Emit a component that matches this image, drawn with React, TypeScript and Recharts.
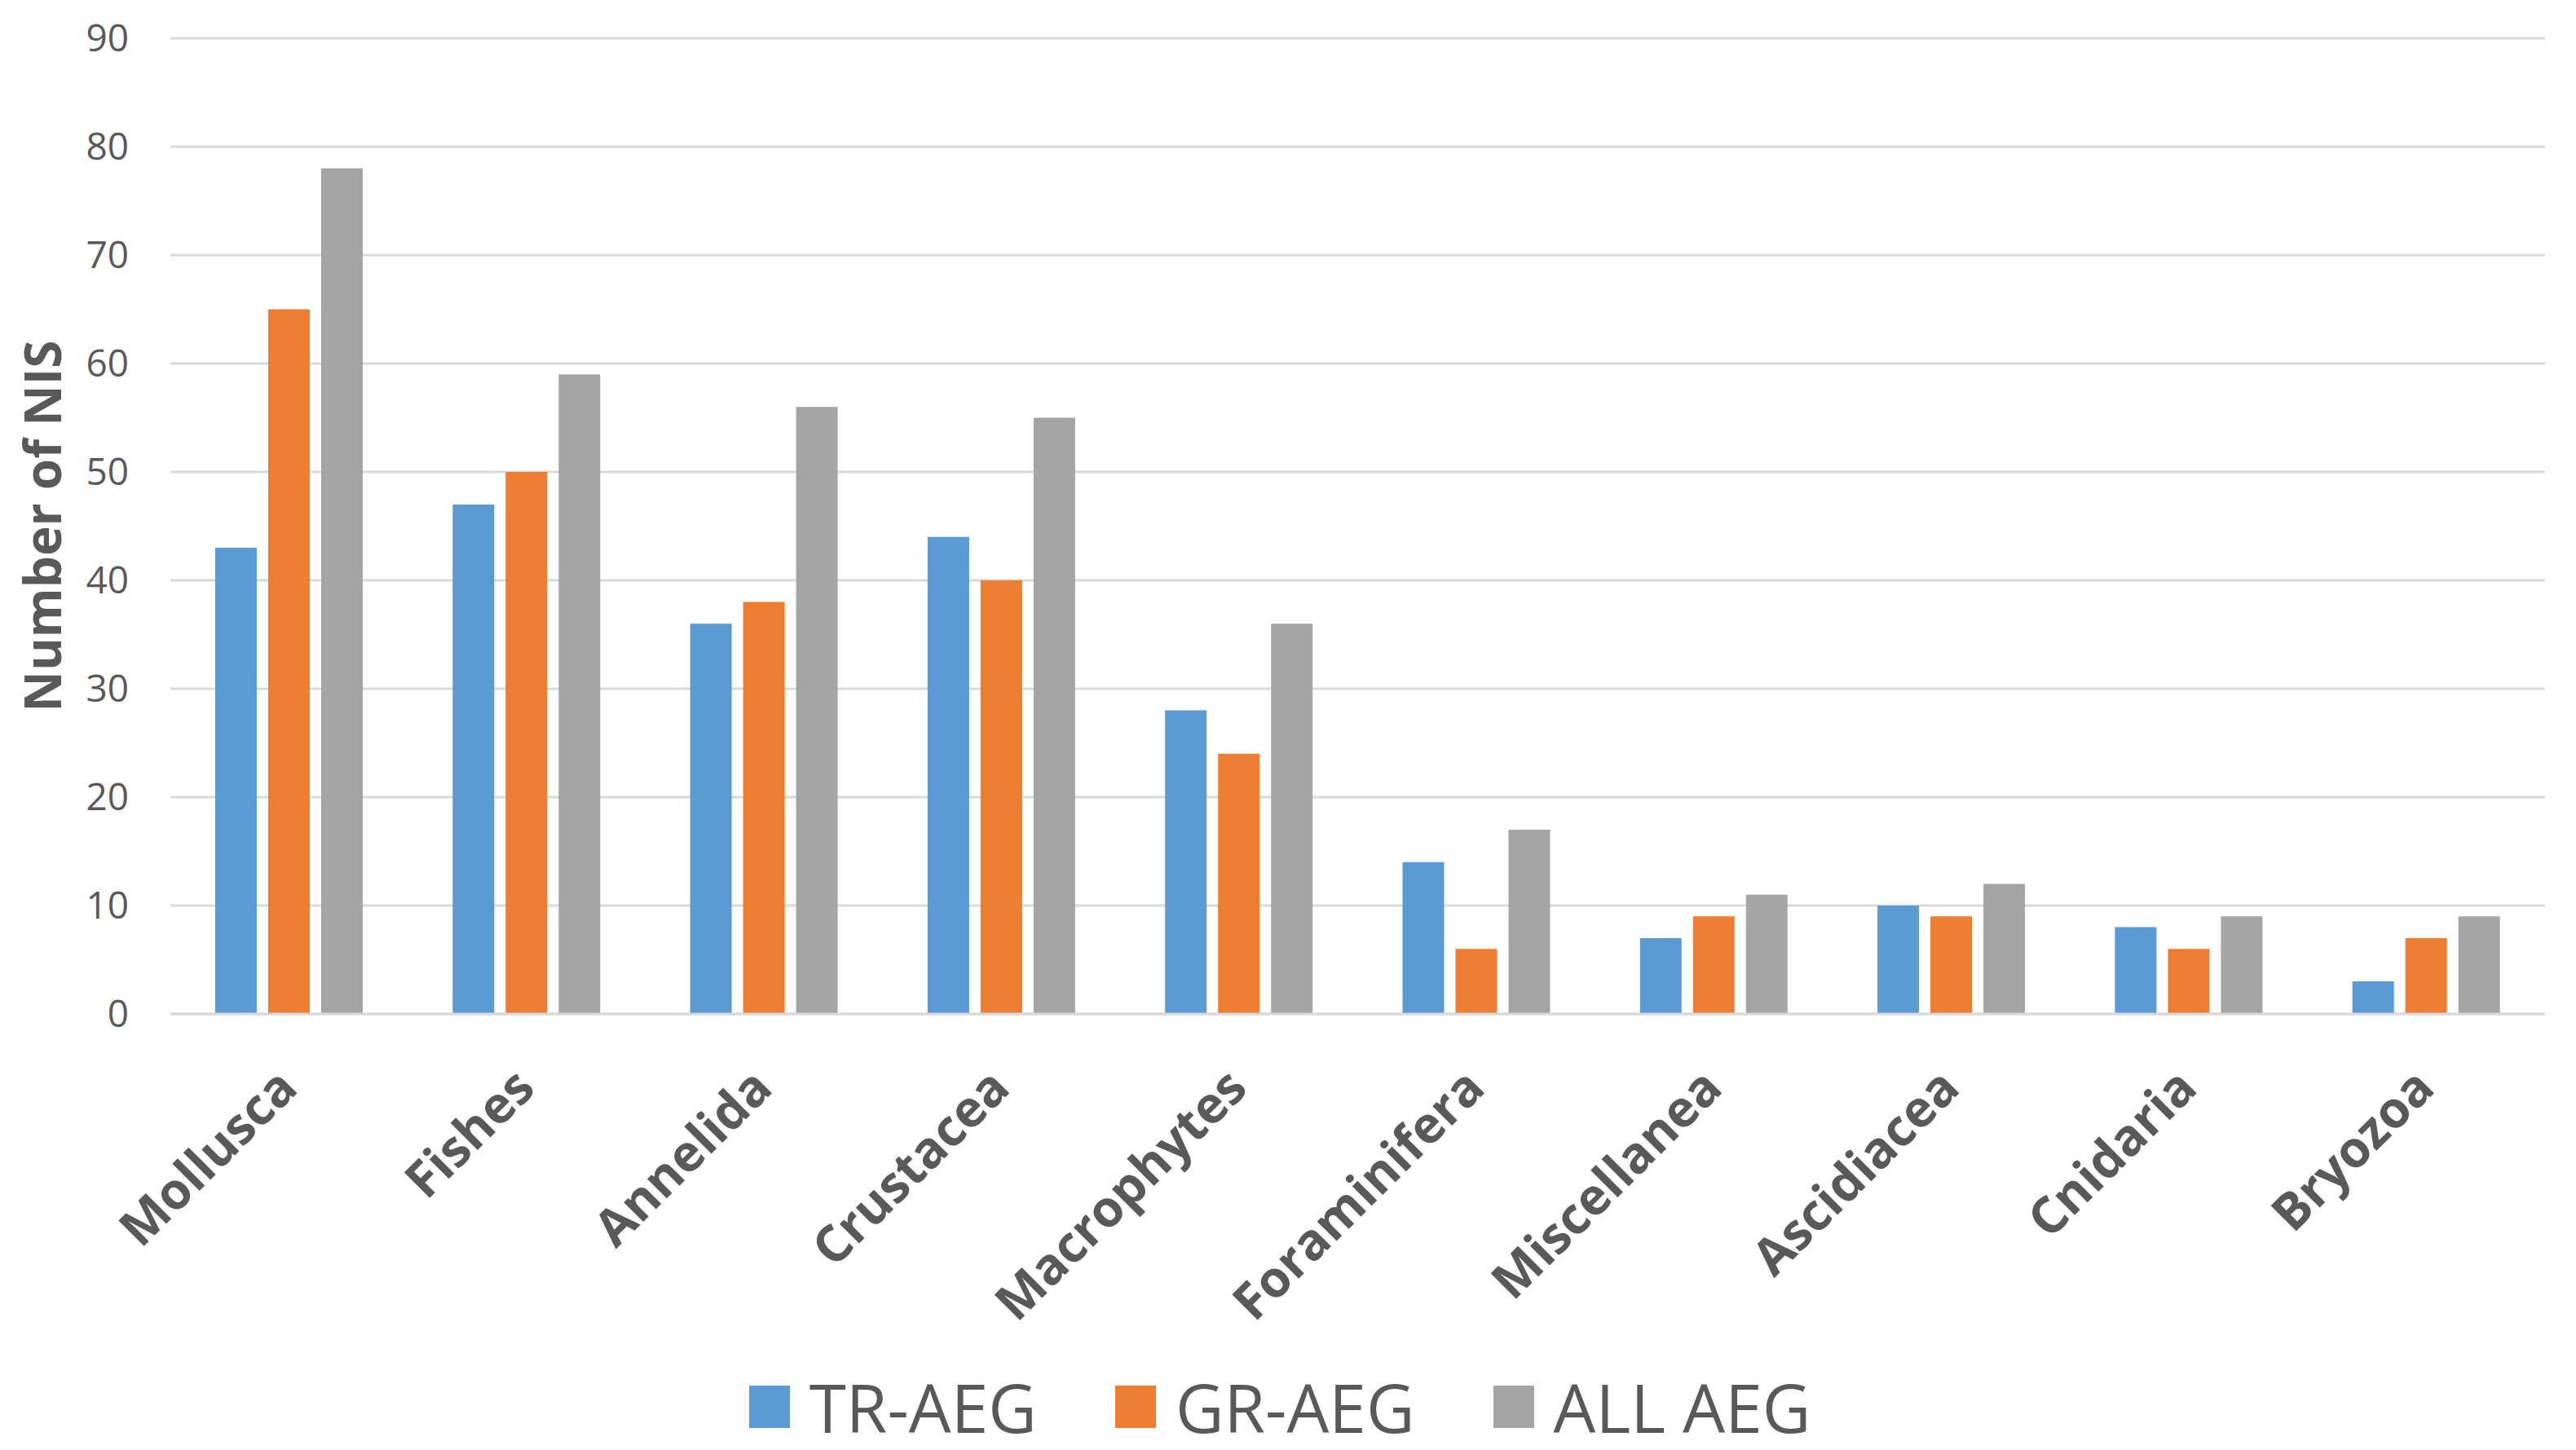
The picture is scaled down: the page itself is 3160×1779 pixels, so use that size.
import { BarChart, Bar, XAxis, YAxis, CartesianGrid, Legend } from 'recharts';

const categories = ['Mollusca', 'Fishes', 'Annelida', 'Crustacea', 'Macrophytes', 'Foraminifera', 'Miscellanea', 'Ascidiacea', 'Cnidaria', 'Bryozoa'];
const seriesNames = ['TR-AEG', 'GR-AEG', 'ALL AEG'];
const trAeg = [43, 47, 36, 44, 28, 14, 7, 10, 8, 3];
const grAeg = [65, 50, 38, 40, 24, 6, 9, 9, 6, 7];
const allAeg = [78, 59, 56, 55, 36, 17, 11, 12, 9, 9];
const yTicks = [0, 10, 20, 30, 40, 50, 60, 70, 80, 90];

const data = categories.map((name, i) => ({ name, tr: trAeg[i], gr: grAeg[i], all: allAeg[i] }));

const FONT = '"Open Sans", sans-serif';
const TEXT = '#595959';

function XTick({ x, y, payload }: any) {
  return (
    <g transform={`translate(${x + 13},${y + 86})`}>
      <text x={0} y={0} textAnchor="end" transform="rotate(-45)" fill={TEXT} fontSize={62} fontWeight={700} fontFamily={FONT}>
        {payload.value}
      </text>
    </g>
  );
}

function YTitle({ viewBox }: any) {
  const cx = 43;
  const cy = viewBox.y + viewBox.height / 2;
  return (
    <text x={cx} y={cy} transform={`rotate(-90, ${cx}, ${cy})`} textAnchor="middle" dominantBaseline="central" fill={TEXT} fontSize={62} fontWeight={700} fontFamily={FONT}>
      Number of NIS
    </text>
  );
}

function LegendBox({ payload }: any) {
  const items = [...payload].sort((a: any, b: any) => seriesNames.indexOf(a.value) - seriesNames.indexOf(b.value));
  return (
    <div style={{ display: 'flex', justifyContent: 'center', alignItems: 'center', height: 90, paddingLeft: 10, fontFamily: FONT }}>
      {items.map((p: any, i: number) => (
        <div key={p.value} style={{ display: 'flex', alignItems: 'center', marginLeft: i === 0 ? 0 : 96 }}>
          <span style={{ display: 'inline-block', width: 50, height: 52, background: p.color, marginRight: 24 }} />
          <span style={{ fontSize: 82, color: TEXT, lineHeight: '90px' }}>{p.value}</span>
        </div>
      ))}
    </div>
  );
}

export default function App() {
  return (
    <div style={{ width: 3144, height: 1763, background: '#fff' }}>
      <BarChart width={3144} height={1763} data={data} margin={{ top: 39, right: 30, left: 0, bottom: 0 }} barSize={51} barGap={14}>
        <CartesianGrid vertical={false} stroke="#D9D9D9" strokeWidth={3} />
        <XAxis dataKey="name" interval={0} height={437} axisLine={{ stroke: '#D9D9D9', strokeWidth: 3 }} tickLine={false} tick={<XTick />} />
        <YAxis width={201} domain={[0, 90]} ticks={yTicks} axisLine={false} tickLine={false} tickMargin={45}
          tick={{ fill: TEXT, fontSize: 46, fontFamily: FONT }} label={{ content: <YTitle /> }} />
        <Legend verticalAlign="bottom" height={90} content={<LegendBox />} />
        <Bar dataKey="tr" name="TR-AEG" fill="#5B9BD5" isAnimationActive={false} />
        <Bar dataKey="gr" name="GR-AEG" fill="#ED7D31" isAnimationActive={false} />
        <Bar dataKey="all" name="ALL AEG" fill="#A5A5A5" isAnimationActive={false} />
      </BarChart>
    </div>
  );
}
